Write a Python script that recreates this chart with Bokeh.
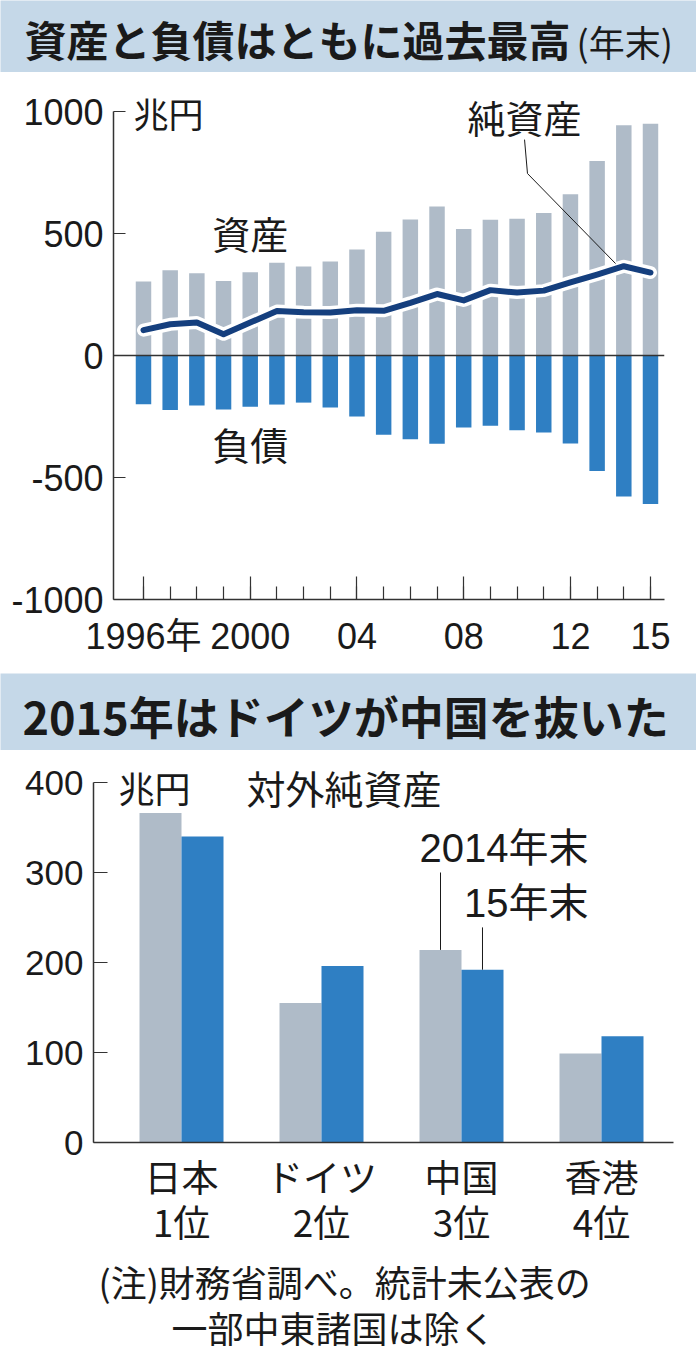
from bokeh.plotting import figure
from bokeh.layouts import column
from bokeh.models import Range1d, FixedTicker, Span
from bokeh.core.properties import value
from bokeh.embed import file_html
from bokeh.resources import INLINE

# ---- data: 対外資産・負債 (兆円, 年末) ----
years = list(range(1996, 2016))
assets = [303, 350, 337, 305, 341, 380, 365, 385, 435, 507, 558, 611,
          519, 556, 561, 584, 661, 797, 944, 950]
liabilities = [-200, -223, -205, -221, -210, -201, -193, -213, -250, -325,
               -343, -362, -295, -288, -306, -316, -361, -473, -578, -609]
net_assets = [104, 128, 135, 87, 135, 182, 177, 176, 186, 183, 216, 252,
              226, 268, 258, 266, 300, 332, 366, 340]

year_labels = {1996: "1996年", 2000: "2000", 2004: "04", 2008: "08",
               2012: "12", 2015: "15"}
value_labels = {-1000: "-1000", -500: "-500", 0: "0", 500: "500", 1000: "1000"}

# ---- data: 対外純資産 上位4か国 (兆円) ----
countries = ["日本\n1位", "ドイツ\n2位", "中国\n3位", "香港\n4位"]
net_2014 = [366, 155, 214, 99]
net_2015 = [340, 196, 192, 118]

JP = "Noto Sans CJK JP"
NUM = "'Liberation Sans', 'Noto Sans CJK JP'"
GRAY = "#afbbc8"
BLUE = "#2f7fc3"
NAVY = "#153f7e"
BAND = "#c5d8e8"
INK = "#1a1a1a"
W = 696


def band(h, title, size, tx, ty, extra=None):
    b = figure(width=W, height=h, x_range=(0, W), y_range=(0, h),
               output_backend="svg", toolbar_location=None, min_border=0,
               frame_align=False)
    b.axis.visible = False
    b.grid.visible = False
    b.outline_line_color = None
    b.background_fill_color = BAND
    b.border_fill_color = BAND
    b.text(x=[tx], y=[ty], text=[title], text_font=value(JP),
           text_font_style="bold", text_font_size=size, text_color=INK,
           text_baseline="middle")
    if extra:
        b.text(x=[extra[0]], y=[extra[1]], text=[extra[2]], text_font=value(JP),
               text_font_size=extra[3], text_color=INK, text_baseline="middle")
    return b


def style_axis(ax, font, size):
    ax.axis_line_color = "#333333"
    ax.axis_line_width = 1.5
    ax.major_tick_line_color = "#333333"
    ax.major_tick_line_width = 1.2
    ax.minor_tick_line_color = "#333333"
    ax.minor_tick_line_width = 1.2
    ax.major_tick_out = 0
    ax.minor_tick_out = 0
    ax.major_label_text_font = font
    ax.major_label_text_font_size = size
    ax.major_label_text_color = INK


# ---- top band ----
b1 = band(72, "資産と負債はともに過去最高", "42px", 24, 34,
          extra=(576, 32, "(年末)", "36px"))

# ---- chart 1 ----
c1 = figure(width=W, height=601, output_backend="svg", toolbar_location=None,
            x_range=Range1d(1994.876, 2015.525), y_range=Range1d(-1000, 1160),
            min_border_left=113, min_border_right=32, min_border_top=0,
            min_border_bottom=74, frame_align=False)
c1.grid.visible = False
c1.outline_line_color = None

c1.vbar(x=years, top=assets, bottom=0, width=0.58, fill_color=GRAY,
        line_color=None)
c1.vbar(x=years, top=0, bottom=liabilities, width=0.58, fill_color=BLUE,
        line_color=None)
c1.add_layout(Span(location=0, dimension="width", line_color="#333333",
                   line_width=1.5))
c1.line(years, net_assets, line_color="white", line_width=13,
        line_cap="round", line_join="round")
c1.line(years, net_assets, line_color=NAVY, line_width=6,
        line_cap="round", line_join="round")

# callout for 純資産
c1.line([2010.28, 2010.39, 2013.69], [885, 746, 377], line_color=INK,
        line_width=1)
c1.text(x=[2010.28], y=[979], text=["純資産"], text_font=value(JP),
        text_font_size="38px", text_color=INK, text_align="center",
        text_baseline="middle")
c1.text(x=[2000, 2000], y=[504, -361], text=["資産", "負債"],
        text_font=value(JP), text_font_size="38px", text_color=INK,
        text_align="center", text_baseline="middle")
c1.text(x=[1995.63], y=[996], text=["兆円"], text_font=value(JP),
        text_font_size="35px", text_color=INK, text_baseline="middle")

ya = c1.yaxis[0]
ya.ticker = FixedTicker(ticks=list(value_labels))
ya.major_label_overrides = value_labels
ya.bounds = (-1000, 1000)
style_axis(ya, NUM, "36px")
ya.major_tick_in = 12
ya.major_label_standoff = 10
ya.minor_tick_line_color = None

xa = c1.xaxis[0]
xa.ticker = FixedTicker(ticks=list(year_labels), minor_ticks=years)
xa.major_label_overrides = year_labels
style_axis(xa, NUM, "36px")
xa.major_tick_in = 23
xa.minor_tick_in = 13
xa.major_label_standoff = 16

# ---- second band ----
b2 = band(77, "2015年はドイツが中国を抜いた", "45px", 22, 35)

# ---- chart 2 ----
c2 = figure(width=W, height=506, output_backend="svg", toolbar_location=None,
            x_range=Range1d(-0.6286, 3.5143), y_range=Range1d(0, 392 / 0.9),
            min_border_left=93, min_border_right=23, min_border_top=0,
            min_border_bottom=114, frame_align=False)
c2.grid.visible = False
c2.outline_line_color = None

idx = list(range(len(countries)))
c2.vbar(x=[i - 0.15 for i in idx], top=net_2014, width=0.3, fill_color=GRAY,
        line_color=None)
c2.vbar(x=[i + 0.15 for i in idx], top=net_2015, width=0.3, fill_color=BLUE,
        line_color=None)

# callouts to China's bars
c2.line([1.85, 1.85], [300, net_2014[2]], line_color=INK, line_width=1)
c2.line([2.15, 2.15], [239, net_2015[2]], line_color=INK, line_width=1)
c2.text(x=[2.907, 2.907], y=[327, 266], text=["2014年末", "15年末"],
        text_font=value(NUM), text_font_size="40px", text_color=INK,
        text_align="right", text_baseline="middle")
c2.text(x=[-0.45], y=[395], text=["兆円"], text_font=value(JP),
        text_font_size="36px", text_color=INK, text_baseline="middle")
c2.text(x=[0.464], y=[395], text=["対外純資産"], text_font=value(JP),
        text_font_size="39px", text_color=INK, text_baseline="middle")

ya2 = c2.yaxis[0]
ya2.ticker = FixedTicker(ticks=[0, 100, 200, 300, 400])
ya2.bounds = (0, 400)
style_axis(ya2, NUM, "35px")
ya2.major_tick_in = 14
ya2.major_label_standoff = 10
ya2.minor_tick_line_color = None

xa2 = c2.xaxis[0]
xa2.ticker = FixedTicker(ticks=idx)
xa2.major_label_overrides = {i: c for i, c in zip(idx, countries)}
style_axis(xa2, JP, "37px")
xa2.major_tick_line_color = None
xa2.minor_tick_line_color = None
xa2.major_label_standoff = 6
xa2.major_label_text_line_height = 0.85

# ---- note ----
nt = figure(width=W, height=107, x_range=(0, W), y_range=(0, 107),
            output_backend="svg", toolbar_location=None, min_border=0,
            frame_align=False)
nt.axis.visible = False
nt.grid.visible = False
nt.outline_line_color = None
nt.text(x=[98, 171], y=[83, 37],
        text=["(注)財務省調べ。統計未公表の", "一部中東諸国は除く"],
        text_font=value(JP), text_font_size="36px", text_color=INK,
        text_baseline="middle")

layout = column(b1, c1, b2, c2, nt, spacing=0)
open("out.html", "w").write(file_html(layout, INLINE))
